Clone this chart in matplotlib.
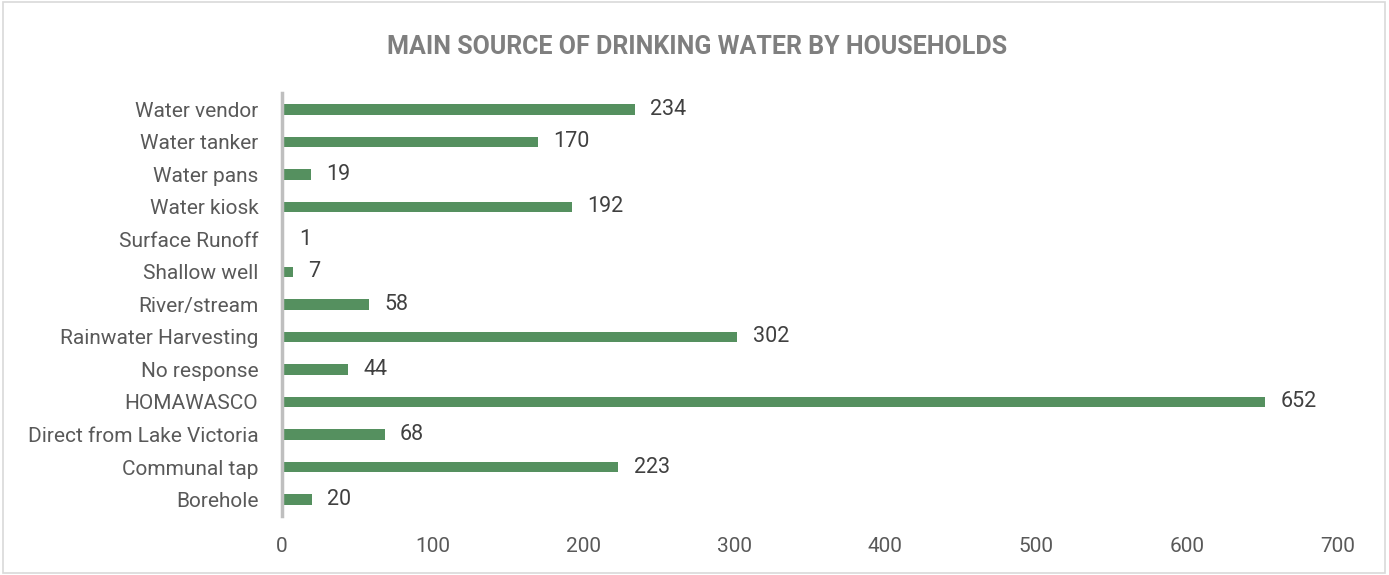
import matplotlib.pyplot as plt
from matplotlib.patches import Rectangle

# data (top to bottom as in the chart)
categories = ["Water vendor", "Water tanker", "Water pans", "Water kiosk",
              "Surface Runoff", "Shallow well", "River/stream",
              "Rainwater Harvesting", "No response", "HOMAWASCO",
              "Direct from Lake Victoria", "Communal tap", "Borehole"]
counts = [234, 170, 19, 192, 1, 7, 58, 302, 44, 652, 68, 223, 20]
xticks = [0, 100, 200, 300, 400, 500, 600, 700]

plt.rcParams['font.family'] = ['Roboto', 'DejaVu Sans']

fig = plt.figure(figsize=(13.89, 5.75), dpi=100)
ax = fig.add_axes([0.203, 0.103, 0.760, 0.735])

ypos = list(range(len(categories)))[::-1]
bars = ax.barh(ypos, counts, height=0.32, color='#55905F')
ax.bar_label(bars, labels=[str(c) for c in counts], padding=11,
             fontsize=15.5, color='#404040')

ax.set_yticks(ypos)
ax.set_yticklabels(categories)
ax.set_ylim(-0.5, len(categories) - 0.5)
ax.set_xlim(0, 700)
ax.set_xticks(xticks)

ax.tick_params(axis='y', length=0, pad=17, labelsize=15, labelcolor='#595959')
ax.tick_params(axis='x', length=0, pad=15, labelsize=15, labelcolor='#595959')

for s in ['top', 'right', 'bottom']:
    ax.spines[s].set_visible(False)
ax.spines['left'].set_color('#BFBFBF')
ax.spines['left'].set_linewidth(2.5)

fig.text(0.502, 0.918, "MAIN SOURCE OF DRINKING WATER BY HOUSEHOLDS",
         ha='center', va='center', fontsize=18, fontweight='bold',
         color='#7F7F7F')

# light frame round the chart area
fig.patches.append(Rectangle((0.002, 0.004), 0.995, 0.992, transform=fig.transFigure,
                             fill=False, edgecolor='#D9D9D9', linewidth=1.2))

fig.savefig('out.png', dpi=100)
